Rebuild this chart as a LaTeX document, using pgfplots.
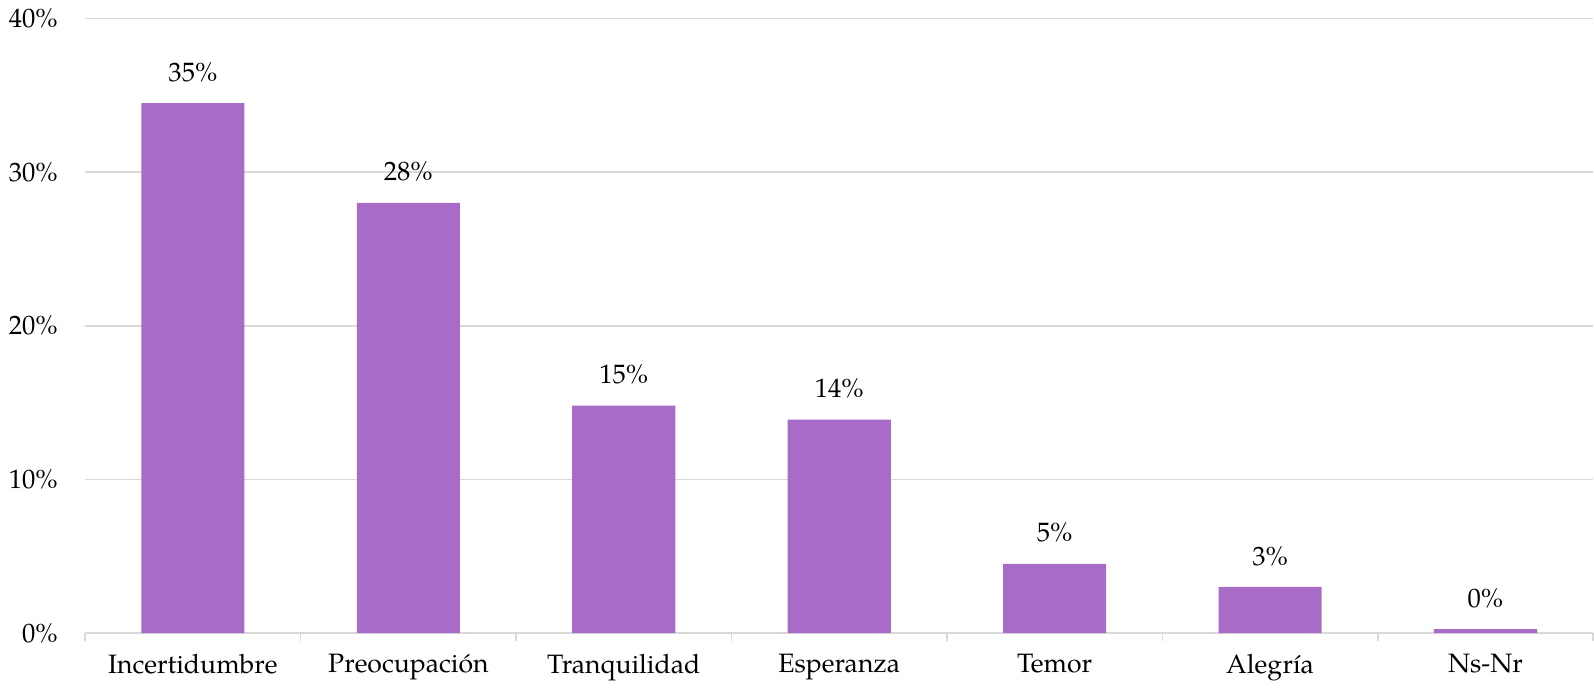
\documentclass[border=0pt]{standalone}
\usepackage{fontspec}
\setmainfont{TeX Gyre Pagella}
\usepackage{pgfplots}
\pgfplotsset{compat=1.18}
\definecolor{barc}{HTML}{A86BC7}
\definecolor{gridc}{HTML}{D9D9D9}
\begin{document}
\fontsize{13.2}{16}\selectfont
\begin{tikzpicture}
\begin{axis}[
  scale only axis,
  width=746bp, height=304bp,
  xmin=-0.5, xmax=6.5,
  ymin=0, ymax=40,
  ybar, bar width=51bp,
  xtick={0,...,6},
  xticklabels={Incertidumbre,Preocupación,Tranquilidad,Esperanza,Temor,Alegría,Ns-Nr},
  minor xtick={-0.5,0.5,...,6.5},
  major tick length=0pt,
  minor tick length=4bp,
  xtick style={draw=gridc, line width=0.8pt},
  minor x tick style={draw=gridc, line width=0.8pt},
  xtick align=outside,
  ytick={0,10,20,30,40},
  yticklabel={\pgfmathprintnumber{\tick}\%},
  /pgf/number format/assume math mode=true,
  ymajorgrids, grid style={draw=gridc, line width=0.8pt},
  axis x line*=bottom,
  axis y line*=left,
  y axis line style={draw=none},
  x axis line style={draw=gridc, line width=0.8pt, -},
  ytick style={draw=none},
  yticklabel style={font=\fontsize{13.2}{16}\selectfont, xshift=-9bp},
  xticklabel style={font=\fontsize{13.2}{16}\selectfont, yshift=-6bp},
  every node near coord/.append style={font=\fontsize{13.2}{16}\selectfont, color=black, yshift=6bp},
  nodes near coords={\pgfmathprintnumber[fixed,precision=0,assume math mode=true]{\pgfplotspointmeta}\%},
  point meta=explicit,
  clip=false,
]
\addplot[fill=barc, draw=none] coordinates {
 (0,34.5) [35]
 (1,28.0) [28]
 (2,14.8) [15]
 (3,13.9) [14]
 (4,4.5) [5]
 (5,3.0) [3]
 (6,0.25) [0]
};
\end{axis}
\end{tikzpicture}
\end{document}
